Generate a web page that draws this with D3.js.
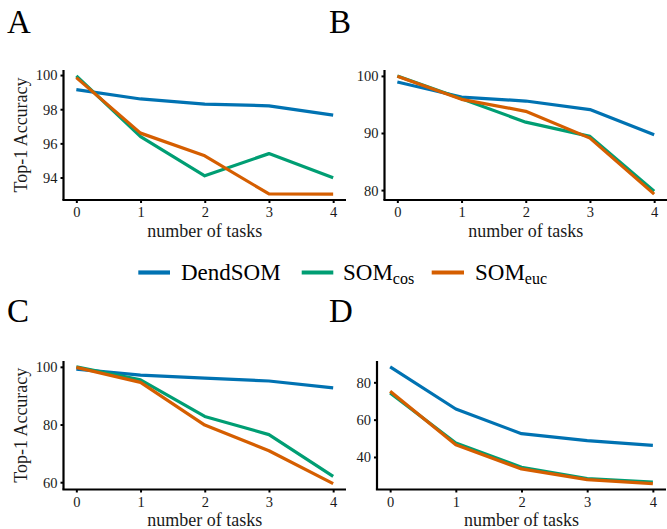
<!DOCTYPE html>
<html><head><meta charset="utf-8">
<script src="https://cdn.jsdelivr.net/npm/d3@7"></script>
<style>
html,body{margin:0;padding:0;background:#fff;}
svg{display:block;}
text{font-family:"Liberation Serif","Times New Roman",serif;}
</style></head>
<body>
<svg id="chart" width="667" height="529"></svg>
<script>
// ---- data ----
const tasks = [0, 1, 2, 3, 4];
const seriesNames = ["DendSOM", "SOMcos", "SOMeuc"];
const panelLabels = ["A", "B", "C", "D"];

const accA_DendSOM = [99.15, 98.6, 98.3, 98.2, 97.65];
const accA_SOMcos  = [99.95, 96.4, 94.1, 95.4, 93.98];
const accA_SOMeuc  = [99.85, 96.6, 95.27, 93.04, 93.03];

const accB_DendSOM = [98.94, 96.3, 95.6, 94.1, 89.7];
const accB_SOMcos  = [100.0, 96.0, 91.9, 89.4, 79.8];
const accB_SOMeuc  = [99.95, 95.9, 93.8, 89.1, 79.3];

const accC_DendSOM = [99.2, 97.1, 96.1, 95.1, 92.7];
const accC_SOMcos  = [100.0, 95.5, 82.8, 76.5, 62.0];
const accC_SOMeuc  = [99.8, 94.6, 79.8, 70.9, 59.5];

const accD_DendSOM = [88.3, 65.7, 52.5, 48.8, 46.2];
const accD_SOMcos  = [74.3, 47.5, 34.5, 28.4, 26.6];
const accD_SOMeuc  = [75.2, 46.6, 33.6, 27.9, 25.7];

const yTicksA = [94, 96, 98, 100];
const yTicksB = [80, 90, 100];
const yTicksC = [60, 80, 100];
const yTicksD = [40, 60, 80];

// ---- styles / layout ----
const colors = {DendSOM: "#0072B2", SOMcos: "#009E73", SOMeuc: "#D55E00"};
const panels = [
  {label: panelLabels[0], data: [accA_DendSOM, accA_SOMcos, accA_SOMeuc], ticks: yTicksA, l: 63.5, r: 346, t: 70, b: 200, yTitle: true, lx: 7, ly: 33},
  {label: panelLabels[1], data: [accB_DendSOM, accB_SOMcos, accB_SOMeuc], ticks: yTicksB, l: 384.5, r: 667, t: 70, b: 200, yTitle: false, lx: 329, ly: 33},
  {label: panelLabels[2], data: [accC_DendSOM, accC_SOMcos, accC_SOMeuc], ticks: yTicksC, l: 63.5, r: 346, t: 361, b: 489.5, yTitle: true, lx: 7, ly: 322},
  {label: panelLabels[3], data: [accD_DendSOM, accD_SOMcos, accD_SOMeuc], ticks: yTicksD, l: 377, r: 666, t: 361, b: 489.5, yTitle: false, lx: 329, ly: 322}
];

const svg = d3.select("#chart");

panels.forEach(p => {
  const g = svg.append("g");
  const xExt = d3.extent(tasks);
  const xPad = (xExt[1] - xExt[0]) * 0.05;
  const x = d3.scaleLinear().domain([xExt[0] - xPad, xExt[1] + xPad]).range([p.l, p.r]);
  const all = p.data.flat();
  const yExt = d3.extent(all);
  const yPad = (yExt[1] - yExt[0]) * 0.05;
  const y = d3.scaleLinear().domain([yExt[0] - yPad, yExt[1] + yPad]).range([p.b, p.t]);

  // x axis
  const xa = g.append("g").attr("transform", `translate(0,${p.b})`)
    .call(d3.axisBottom(x).tickValues(tasks).tickFormat(d3.format("d"))
      .tickSize(3).tickPadding(5).tickSizeOuter(0));
  // y axis
  const ya = g.append("g").attr("transform", `translate(${p.l},0)`)
    .call(d3.axisLeft(y).tickValues(p.ticks).tickFormat(d3.format("d"))
      .tickSize(3).tickPadding(3).tickSizeOuter(0));
  [xa, ya].forEach(a => {
    a.attr("font-family", null).attr("font-size", null);
    a.select(".domain").attr("stroke", "#000").attr("stroke-width", 2.2);
    a.selectAll(".tick line").attr("stroke", "#000").attr("stroke-width", 2);
    a.selectAll(".tick text").attr("fill", "#1a1a1a").style("font-size", "14.5px");
  });
  xa.selectAll(".tick text").attr("dy", null).attr("y", 17.3);
  ya.selectAll(".tick text").attr("dy", "0.34em");
  xa.select(".domain").attr("d", `M${p.l - 1.1},0H${p.r}`);
  ya.select(".domain").attr("d", `M0,${p.t}V${p.b}`);

  // lines
  const line = d3.line().x((d, i) => x(tasks[i])).y(d => y(d));
  p.data.forEach((vals, si) => {
    g.append("path").datum(vals)
      .attr("d", line)
      .attr("fill", "none")
      .attr("stroke", colors[seriesNames[si]])
      .attr("stroke-width", 3.2)
      .attr("stroke-linejoin", "round");
  });

  // axis titles
  g.append("text")
    .attr("x", (p.l + p.r) / 2).attr("y", p.b + 36.7)
    .attr("text-anchor", "middle").style("font-size", "18px").attr("fill", "#1a1a1a")
    .text("number of tasks");
  if (p.yTitle) {
    g.append("text")
      .attr("transform", `translate(26.5,${(p.t + p.b) / 2}) rotate(-90)`)
      .attr("text-anchor", "middle").style("font-size", "18px").attr("fill", "#1a1a1a")
      .text("Top-1 Accuracy");
  }
  // panel label
  svg.append("text").attr("x", p.lx).attr("y", p.ly)
    .style("font-size", "33px").attr("fill", "#000").text(p.label);
});

// ---- legend ----
const legendItems = [
  {key: "DendSOM", main: "DendSOM", sub: "", x0: 138.3, x1: 170, tx: 181},
  {key: "SOMcos", main: "SOM", sub: "cos", x0: 301.7, x1: 333.3, tx: 343},
  {key: "SOMeuc", main: "SOM", sub: "euc", x0: 431.7, x1: 464, tx: 475}
];
const lg = svg.append("g");
legendItems.forEach(it => {
  lg.append("line").attr("x1", it.x0).attr("x2", it.x1).attr("y1", 272.5).attr("y2", 272.5)
    .attr("stroke", colors[it.key]).attr("stroke-width", 4.2);
  const t = lg.append("text").attr("x", it.tx).attr("y", 280).style("font-size", "23px").attr("fill", "#000");
  t.append("tspan").text(it.main);
  if (it.sub) t.append("tspan").attr("dy", 4).style("font-size", "16px").text(it.sub);
});
</script>
</body></html>
